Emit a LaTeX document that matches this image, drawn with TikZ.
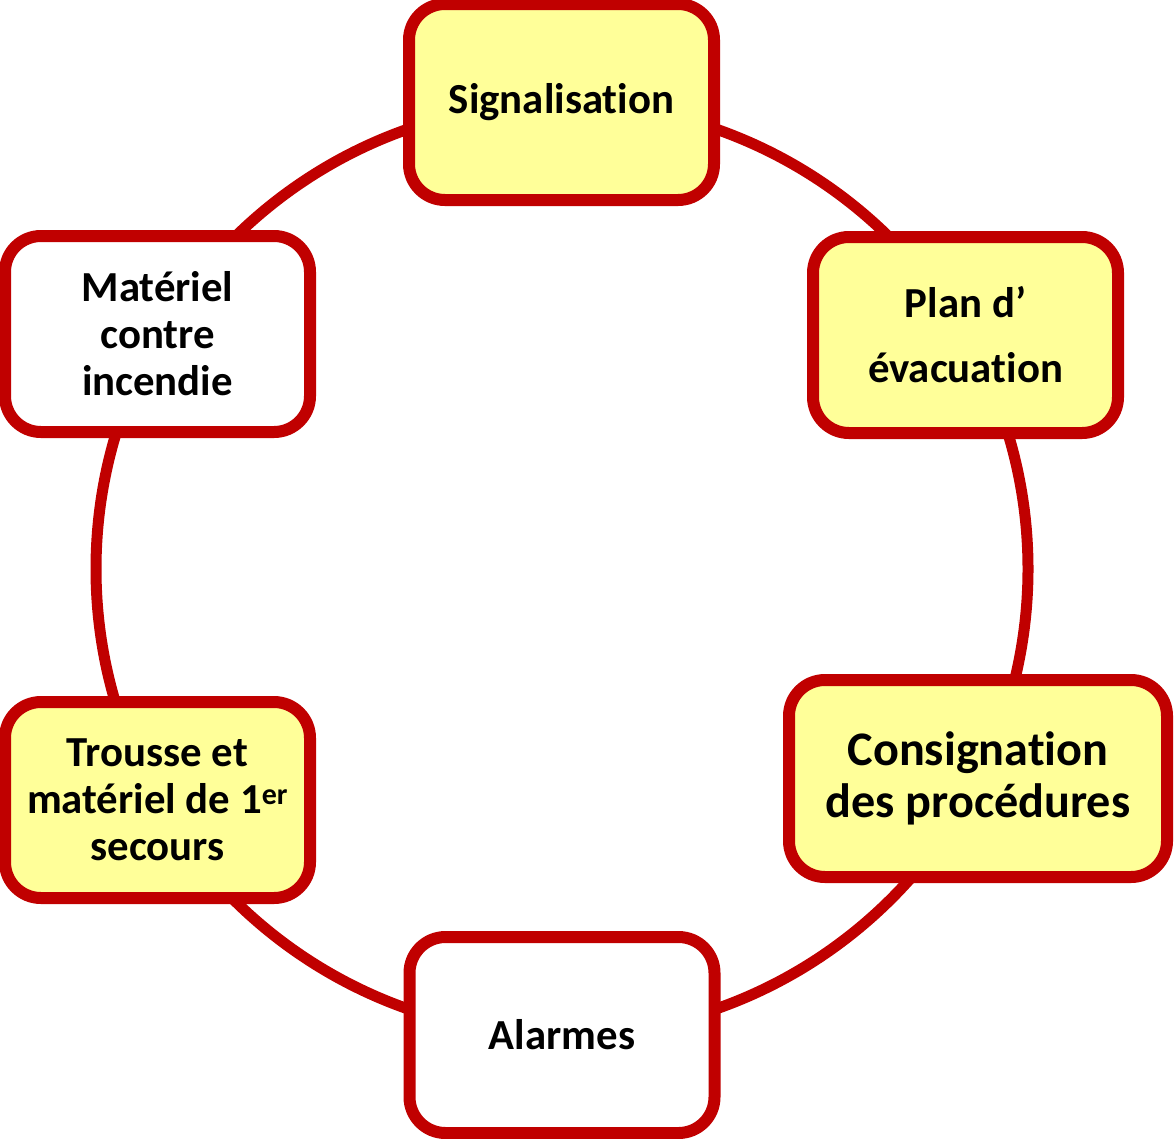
\documentclass[tikz,border=0pt]{standalone}
\usepackage{fontspec}
\setmainfont{Carlito}[Ligatures=NoCommon]
\usetikzlibrary{backgrounds}
\definecolor{ringred}{HTML}{C00000}
\definecolor{boxyellow}{HTML}{FFFF99}
\tikzset{
  box/.style={draw=ringred, line width=12pt, rounded corners=36pt,
    minimum width=305pt, minimum height=196pt, inner sep=0pt,
    align=center, font=\fontsize{42.8}{47}\selectfont\bfseries},
  yellowbox/.style={box, fill=boxyellow},
  whitebox/.style={box, fill=white},
}
\begin{document}
\begin{tikzpicture}[x=1pt,y=-1pt]
\useasboundingbox (0,0) rectangle (1174,1138);
\coordinate (ctr) at (562,569);
% the six boxes
\node[yellowbox] (signal) at (561.5,102) {Signalisation};
\node[yellowbox] (plan) at (965.5,335) {Plan d’\\[18pt]évacuation};
\node[yellowbox, minimum width=378pt, minimum height=197pt,
  font=\fontsize{48.2}{52}\selectfont\bfseries] (consign) at (978,778.5)
  {Consignation\\des procédures};
\node[whitebox] (alarm) at (562,1035) {Alarmes};
\node[yellowbox] (trousse) at (157.5,800)
  {Trousse et\\matériel de 1\textsuperscript{er}\\secours};
\node[whitebox] (materiel) at (157.5,334) {Matériel\\contre\\incendie};
% ring behind the boxes
\begin{scope}[on background layer]
\draw[ringred, line width=11pt] (ctr) circle (466pt);
\end{scope}
\end{tikzpicture}
\end{document}
